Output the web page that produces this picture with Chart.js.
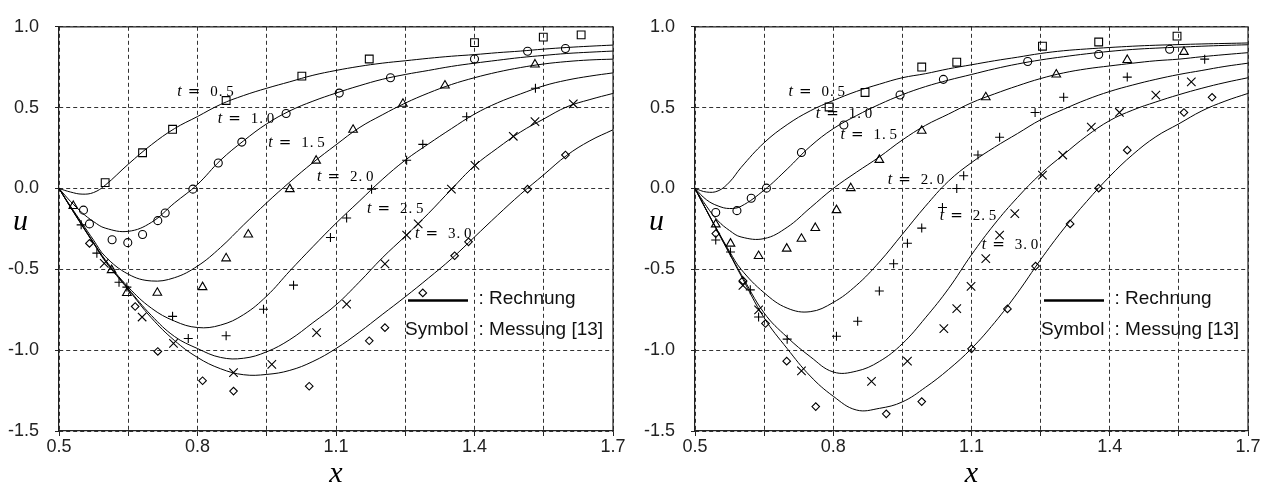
<!DOCTYPE html>
<html>
<head>
<meta charset="utf-8">
<script src="https://cdn.jsdelivr.net/npm/chart.js@4/dist/chart.umd.min.js"></script>
<style>
  html, body { margin: 0; padding: 0; background: #fff; }
  #wrap { position: relative; width: 1271px; height: 493px; }
  canvas { position: absolute; top: 0; }
</style>
</head>
<body>
<div id="wrap">
  <canvas id="left" width="636" height="493" style="left:0"></canvas>
  <canvas id="right" width="635" height="493" style="left:636px"></canvas>
</div>
<script>
// sample positions of the computed curves
const xs = [0.5, 0.525, 0.55, 0.575, 0.6, 0.65, 0.7, 0.75, 0.8, 0.85, 0.9, 0.95, 1.0, 1.05,
            1.1, 1.15, 1.2, 1.25, 1.3, 1.35, 1.4, 1.45, 1.5, 1.55, 1.6, 1.65, 1.7];
const times = ['0.5', '1.0', '1.5', '2.0', '2.5', '3.0'];

const xTicks = [0.5, 0.65, 0.8, 0.95, 1.1, 1.25, 1.4, 1.55, 1.7];
const xTickLabels = ['0.5', '', '0.8', '', '1.1', '', '1.4', '', '1.7'];
const yTicks = [-1.5, -1.0, -0.5, 0.0, 0.5, 1.0];

// left panel, Rechnung
const leftT05 = [0, -0.022, -0.035, -0.025, 0.02, 0.15, 0.27, 0.37, 0.445, 0.52, 0.575, 0.62, 0.66, 0.70,
                 0.73, 0.755, 0.775, 0.79, 0.805, 0.818, 0.828, 0.84, 0.85, 0.862, 0.872, 0.88, 0.887];
const leftT10 = [0, -0.08, -0.15, -0.205, -0.245, -0.265, -0.21, -0.09, 0.025, 0.175, 0.295, 0.40, 0.48, 0.54,
                 0.59, 0.635, 0.675, 0.705, 0.73, 0.755, 0.775, 0.793, 0.81, 0.823, 0.835, 0.843, 0.85];
const leftT15 = [0, -0.11, -0.215, -0.32, -0.42, -0.53, -0.572, -0.552, -0.48, -0.365, -0.225, -0.088, 0.04, 0.16,
                 0.27, 0.375, 0.455, 0.528, 0.59, 0.643, 0.685, 0.72, 0.748, 0.77, 0.785, 0.795, 0.80];
const leftT20 = [0, -0.115, -0.225, -0.335, -0.44, -0.61, -0.74, -0.82, -0.86, -0.845, -0.78, -0.665, -0.51, -0.36,
                 -0.215, -0.08, 0.055, 0.175, 0.275, 0.37, 0.46, 0.53, 0.585, 0.635, 0.67, 0.695, 0.715];
const leftT25 = [0, -0.115, -0.228, -0.338, -0.445, -0.62, -0.785, -0.915, -0.99, -1.045, -1.05, -1.01, -0.935, -0.83,
                 -0.72, -0.58, -0.43, -0.295, -0.155, -0.005, 0.14, 0.25, 0.35, 0.43, 0.505, 0.55, 0.588];
const leftT30 = [0, -0.117, -0.23, -0.34, -0.45, -0.625, -0.80, -0.94, -1.045, -1.115, -1.152, -1.15, -1.125, -1.07,
                 -0.99, -0.89, -0.78, -0.67, -0.555, -0.435, -0.30, -0.165, -0.035, 0.085, 0.205, 0.295, 0.363];

// left panel, Messung [13]
const leftSquares = [[0.600, 0.036], [0.681, 0.221], [0.746, 0.366], [0.862, 0.544], [1.026, 0.695],
                     [1.172, 0.801], [1.400, 0.902], [1.549, 0.936], [1.631, 0.950]];
const leftCircles = [[0.553, -0.134], [0.566, -0.219], [0.615, -0.317], [0.649, -0.335], [0.681, -0.285],
                     [0.714, -0.199], [0.730, -0.152], [0.790, -0.004], [0.845, 0.158], [0.896, 0.287],
                     [0.992, 0.464], [1.107, 0.590], [1.218, 0.685], [1.400, 0.801], [1.515, 0.849], [1.597, 0.866]];
const leftTriangles = [[0.531, -0.108], [0.614, -0.505], [0.647, -0.646], [0.713, -0.645], [0.811, -0.610],
                       [0.862, -0.432], [0.910, -0.285], [1.000, -0.004], [1.057, 0.172], [1.137, 0.363],
                       [1.245, 0.524], [1.336, 0.637], [1.531, 0.767]];
const leftPlus = [[0.548, -0.225], [0.582, -0.400], [0.630, -0.580], [0.647, -0.610], [0.746, -0.791],
                  [0.780, -0.928], [0.862, -0.911], [0.943, -0.747], [1.008, -0.598], [1.088, -0.303],
                  [1.123, -0.183], [1.177, -0.004], [1.253, 0.175], [1.288, 0.273], [1.383, 0.444], [1.532, 0.620]];
const leftCrosses = [[0.598, -0.463], [0.680, -0.795], [0.748, -0.958], [0.878, -1.139], [0.961, -1.088],
                     [1.058, -0.892], [1.123, -0.715], [1.206, -0.466], [1.253, -0.289], [1.278, -0.219],
                     [1.350, -0.004], [1.401, 0.143], [1.484, 0.323], [1.531, 0.414], [1.614, 0.524]];
const leftDiamonds = [[0.566, -0.340], [0.665, -0.730], [0.714, -1.008], [0.811, -1.189], [0.878, -1.253],
                      [1.042, -1.223], [1.172, -0.942], [1.206, -0.861], [1.288, -0.646], [1.357, -0.416],
                      [1.387, -0.330], [1.515, -0.004], [1.597, 0.207]];

// right panel, Rechnung
const rightT05 = [0, -0.022, -0.015, 0.04, 0.13, 0.283, 0.395, 0.48, 0.544, 0.60, 0.645, 0.685, 0.71, 0.74,
                  0.765, 0.79, 0.812, 0.835, 0.852, 0.863, 0.872, 0.88, 0.886, 0.89, 0.894, 0.897, 0.90];
const rightT10 = [0, -0.07, -0.108, -0.124, -0.11, -0.01, 0.12, 0.26, 0.37, 0.45, 0.52, 0.58, 0.63, 0.67,
                  0.705, 0.74, 0.77, 0.795, 0.815, 0.833, 0.848, 0.86, 0.868, 0.874, 0.88, 0.885, 0.889];
const rightT15 = [0, -0.11, -0.2, -0.26, -0.30, -0.31, -0.24, -0.12, 0.0, 0.10, 0.195, 0.30, 0.39, 0.46,
                  0.53, 0.585, 0.635, 0.68, 0.715, 0.74, 0.758, 0.775, 0.79, 0.80, 0.815, 0.828, 0.84];
const rightT20 = [0, -0.135, -0.265, -0.39, -0.50, -0.645, -0.74, -0.762, -0.705, -0.60, -0.455, -0.283, -0.11, 0.045,
                  0.16, 0.255, 0.34, 0.425, 0.49, 0.55, 0.60, 0.64, 0.675, 0.705, 0.73, 0.755, 0.775];
const rightT25 = [0, -0.135, -0.268, -0.40, -0.53, -0.77, -0.92, -1.04, -1.135, -1.13, -1.07, -0.96, -0.80, -0.62,
                  -0.41, -0.22, -0.055, 0.09, 0.21, 0.325, 0.42, 0.485, 0.535, 0.58, 0.62, 0.655, 0.685];
const rightT30 = [0, -0.137, -0.272, -0.405, -0.54, -0.80, -0.99, -1.16, -1.285, -1.37, -1.36, -1.32, -1.23, -1.12,
                  -0.99, -0.83, -0.645, -0.44, -0.25, -0.08, 0.075, 0.21, 0.32, 0.40, 0.48, 0.54, 0.588];

// right panel, Messung [13]
const rightSquares = [[0.791, 0.504], [0.869, 0.594], [0.992, 0.751], [1.068, 0.781], [1.254, 0.880],
                      [1.376, 0.906], [1.546, 0.942]];
const rightCircles = [[0.545, -0.149], [0.591, -0.137], [0.622, -0.060], [0.655, 0.002], [0.731, 0.223],
                      [0.823, 0.393], [0.945, 0.578], [1.039, 0.675], [1.222, 0.785], [1.376, 0.829], [1.530, 0.861]];
const rightTriangles = [[0.545, -0.222], [0.577, -0.341], [0.638, -0.418], [0.699, -0.372], [0.731, -0.311],
                        [0.761, -0.244], [0.807, -0.134], [0.838, 0.002], [0.900, 0.177], [0.992, 0.357],
                        [1.131, 0.564], [1.284, 0.705], [1.438, 0.795], [1.561, 0.845]];
const rightPlus = [[0.545, -0.319], [0.577, -0.393], [0.620, -0.627], [0.638, -0.795], [0.700, -0.932],
                   [0.807, -0.914], [0.853, -0.821], [0.900, -0.634], [0.931, -0.466], [0.961, -0.339],
                   [0.992, -0.245], [1.037, -0.118], [1.068, 0.000], [1.083, 0.079], [1.114, 0.207],
                   [1.161, 0.317], [1.238, 0.470], [1.300, 0.564], [1.438, 0.689], [1.606, 0.800]];
const rightCrosses = [[0.604, -0.600], [0.638, -0.751], [0.731, -1.128], [0.883, -1.193], [0.961, -1.068],
                      [1.040, -0.867], [1.068, -0.743], [1.099, -0.605], [1.131, -0.434], [1.161, -0.289],
                      [1.194, -0.155], [1.254, 0.082], [1.298, 0.207], [1.360, 0.380], [1.421, 0.470],
                      [1.500, 0.578], [1.577, 0.659]];
const rightDiamonds = [[0.545, -0.279], [0.604, -0.570], [0.653, -0.835], [0.699, -1.068], [0.762, -1.349],
                       [0.915, -1.394], [0.992, -1.318], [1.100, -0.992], [1.178, -0.745], [1.239, -0.480],
                       [1.314, -0.219], [1.376, 0.002], [1.438, 0.237], [1.561, 0.470], [1.622, 0.564]];

// where the "t = ..." captions sit (left edge, baseline), in axis units
const leftCaptions = [[0.756, 0.569], [0.844, 0.407], [0.953, 0.257], [1.059, 0.048], [1.167, -0.152], [1.271, -0.309]];
const rightCaptions = [[0.703, 0.570], [0.762, 0.438], [0.816, 0.309], [0.918, 0.026], [1.031, -0.195], [1.122, -0.372]];

const symbols = [
    { pointStyle: 'rect', radius: 5.5 },
    { pointStyle: 'circle', radius: 4 },
    { pointStyle: 'triangle', radius: 5 },
    { pointStyle: 'cross', radius: 4.5 },
    { pointStyle: 'crossRot', radius: 6 },
    { pointStyle: 'rectRot', radius: 3.8 }
];

Chart.defaults.font.family = '"Liberation Sans", Arial, sans-serif';

function drawCaption(ctx, px, py, t) {
    ctx.fillStyle = '#000';
    ctx.textAlign = 'left';
    ctx.textBaseline = 'alphabetic';
    ctx.font = 'italic 16px "Liberation Serif"';
    ctx.fillText('t', px, py);
    ctx.font = '15px "DejaVu Sans"';
    ctx.fillText('=', px + 10.5, py);
    ctx.font = '15px "Liberation Serif"';
    ctx.fillText(t[0], px + 33, py);
    ctx.fillText('.', px + 41.5, py);
    ctx.fillText(t[2], px + 49, py);
}

const extras = {
    id: 'extras',
    afterDraw(chart, args, opts) {
        const { ctx, chartArea: a } = chart;
        const sx = chart.scales.x, sy = chart.scales.y;
        ctx.save();

        // close the frame on top and right
        ctx.strokeStyle = '#222';
        ctx.lineWidth = 1.2;
        ctx.beginPath();
        ctx.moveTo(a.left, a.top);
        ctx.lineTo(a.right, a.top);
        ctx.lineTo(a.right, a.bottom);
        ctx.stroke();

        opts.captions.forEach(([cx, cy], i) => {
            drawCaption(ctx, sx.getPixelForValue(cx), sy.getPixelForValue(cy), times[i]);
        });

        // axis names
        ctx.fillStyle = '#000';
        ctx.font = 'italic 30px "Liberation Serif"';
        ctx.textBaseline = 'alphabetic';
        ctx.textAlign = 'left';
        ctx.fillText('u', 13, 230);
        ctx.textAlign = 'center';
        ctx.fillText('x', (a.left + a.right) / 2, 482);

        // legend
        ctx.strokeStyle = '#000';
        ctx.lineWidth = 2.5;
        ctx.beginPath();
        ctx.moveTo(408, 300.5);
        ctx.lineTo(468, 300.5);
        ctx.stroke();
        ctx.fillStyle = '#111';
        ctx.font = '19px "Liberation Sans"';
        ctx.textAlign = 'left';
        ctx.fillText(': Rechnung', 478.5, 303.5);
        ctx.fillText('Symbol', 405, 334.5);
        ctx.fillText(': Messung [13]', 478.5, 334.5);

        ctx.restore();
    }
};

const makePanel = (canvasId, curves, marks, captions) => {
    const datasets = [];
    curves.forEach((ys, i) => {
        datasets.push({
            label: 't = ' + times[i],
            data: xs.map((x, k) => ({ x, y: ys[k] })),
            showLine: true,
            borderColor: '#000',
            borderWidth: 1,
            pointRadius: 0,
            tension: 0.4
        });
    });
    marks.forEach((pts, i) => {
        datasets.push({
            label: 'Messung t = ' + times[i],
            data: pts.map(([x, y]) => ({ x, y })),
            showLine: false,
            pointStyle: symbols[i].pointStyle,
            pointRadius: symbols[i].radius,
            pointBorderColor: '#000',
            pointBackgroundColor: 'rgba(0,0,0,0)',
            pointBorderWidth: 1.1
        });
    });

    const tickFont = { family: '"Liberation Sans"', size: 18 };

    return new Chart(document.getElementById(canvasId), {
        type: 'scatter',
        data: { datasets },
        options: {
            responsive: false,
            animation: false,
            layout: { padding: { left: 0, right: 23, top: 16, bottom: 0 } },
            plugins: {
                legend: { display: false },
                tooltip: { enabled: false },
                extras: { captions }
            },
            scales: {
                x: {
                    type: 'linear',
                    min: 0.5,
                    max: 1.7,
                    afterBuildTicks: s => { s.ticks = xTicks.map(v => ({ value: v })); },
                    afterFit: s => { s.height = 62; },
                    ticks: {
                        autoSkip: false,
                        maxRotation: 0,
                        padding: 0,
                        color: '#222',
                        font: tickFont,
                        callback: (v, i) => xTickLabels[i]
                    },
                    grid: { color: '#333', lineWidth: 1, tickLength: 5, tickColor: '#222' },
                    border: { color: '#222', width: 1.2, dash: [4, 3] }
                },
                y: {
                    type: 'linear',
                    min: -1.5,
                    max: 1.0,
                    afterBuildTicks: s => { s.ticks = yTicks.map(v => ({ value: v })); },
                    afterFit: s => { s.width = 59; },
                    ticks: {
                        padding: 16,
                        color: '#222',
                        font: tickFont,
                        callback: v => v.toFixed(1)
                    },
                    grid: { color: '#333', lineWidth: 1, tickLength: 4, tickColor: '#222' },
                    border: { color: '#222', width: 1.2, dash: [4, 3] }
                }
            }
        },
        plugins: [extras]
    });
};

makePanel('left',
    [leftT05, leftT10, leftT15, leftT20, leftT25, leftT30],
    [leftSquares, leftCircles, leftTriangles, leftPlus, leftCrosses, leftDiamonds],
    leftCaptions);

makePanel('right',
    [rightT05, rightT10, rightT15, rightT20, rightT25, rightT30],
    [rightSquares, rightCircles, rightTriangles, rightPlus, rightCrosses, rightDiamonds],
    rightCaptions);
</script>
</body>
</html>
